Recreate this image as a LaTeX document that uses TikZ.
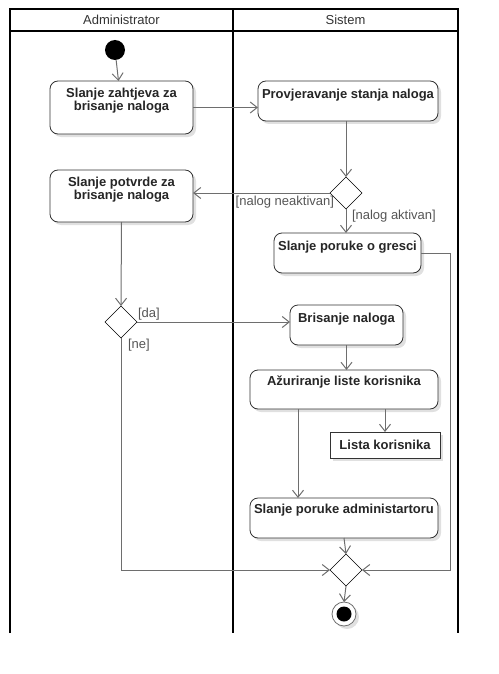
\documentclass[tikz,border=0pt]{standalone}
\usepackage{fontspec}
\setmainfont{Liberation Sans}
\usepackage{tikz}
\usetikzlibrary{arrows.meta,shapes.geometric,shadows}
\definecolor{linegray}{HTML}{6E6E6E}
\definecolor{boxgray}{HTML}{333333}
\definecolor{textgray}{HTML}{555555}

\begin{document}
\begin{tikzpicture}[x=1pt,y=-1pt,every node/.style={outer sep=0pt}]
\tikzstyle{lane}=[line width=1.6pt,black]
\tikzstyle{head}=[font=\fontsize{13}{15}\selectfont,text=boxgray]
\tikzstyle{action}=[draw=boxgray,line width=0.8pt,rounded corners=8pt,fill=white,
  drop shadow={shadow xshift=3pt,shadow yshift=-3pt,fill=black!12,opacity=1}]
\tikzstyle{acttext}=[font=\bfseries\fontsize{13}{13.5}\selectfont,align=center,text=black!85,inner sep=0pt,anchor=north]
\tikzstyle{decision}=[draw=black,diamond,aspect=1,fill=white,inner sep=0pt,minimum width=32pt,minimum height=32pt,line width=0.6pt]
\tikzstyle{flow}=[draw=linegray,line width=1pt,-{Straight Barb[length=7pt,width=11pt]}]
\tikzstyle{guard}=[font=\fontsize{13}{15}\selectfont,text=textgray,inner sep=1pt]
\useasboundingbox (0,0) rectangle (498,674);

% swimlanes
\draw [lane] (10,633) -- (10,9) -- (458,9) -- (458,633);
\draw [lane] (233,9) -- (233,633);
\draw [lane] (10,31) -- (458,31);
\node (adm_head) at (121.5,20) [head] {Administrator};
\node (sis_head) at (345.5,20) [head] {Sistem};

% start
\node (start_node) at (115,50) [circle,fill=black,minimum size=20pt,inner sep=0pt] {};

% actions
\node (zahtjev_node) at (121.5,107.5) [action,minimum width=143pt,minimum height=53pt] {};
\node (zahtjev_txt) at (zahtjev_node.north) [acttext,yshift=-7pt] {Slanje zahtjeva za\\brisanje naloga};
\node (provjera_node) at (348,101) [action,minimum width=180pt,minimum height=40pt] {};
\node (provjera_txt) at (provjera_node.north) [acttext,yshift=-8pt] {Provjeravanje stanja naloga};
\node (potvrda_node) at (121.5,196) [action,minimum width=143pt,minimum height=52pt] {};
\node (potvrda_txt) at (potvrda_node.north) [acttext,yshift=-7pt] {Slanje potvrde za\\brisanje naloga};
\node (greska_node) at (347.5,253) [action,minimum width=147pt,minimum height=40pt] {};
\node (greska_txt) at (greska_node.north) [acttext,yshift=-8pt] {Slanje poruke o gresci};
\node (brisanje_node) at (346.5,325) [action,minimum width=113pt,minimum height=40pt] {};
\node (brisanje_txt) at (brisanje_node.north) [acttext,yshift=-8pt] {Brisanje naloga};
\node (azuriranje_node) at (344,389.5) [action,minimum width=188pt,minimum height=39pt] {};
\node (azuriranje_txt) at (azuriranje_node.north) [acttext,yshift=-6pt] {Ažuriranje liste korisnika};
\node (lista_node) at (385,445) [action,rounded corners=0pt,minimum width=110pt,minimum height=26pt,
  font=\bfseries\fontsize{13}{15}\selectfont,text=black!85] {Lista korisnika};
\node (poruka_node) at (344,518) [action,minimum width=188pt,minimum height=40pt] {};
\node (poruka_txt) at (poruka_node.north) [acttext,yshift=-6pt] {Slanje poruke administartoru};

% decisions
\node (odluka1_node) at (346,193) [decision] {};
\node (odluka2_node) at (121,322) [decision] {};
\node (spoj_node) at (346,570) [decision] {};

% end
\node (end_node) at (344,614) [circle,draw=linegray,line width=0.8pt,fill=white,minimum size=24pt,inner sep=0pt,
  drop shadow={shadow xshift=3pt,shadow yshift=-3pt,fill=black!12,opacity=1}] {};
\node (end_dot) at (end_node) [circle,fill=black,minimum size=15pt,inner sep=0pt] {};

% flows
\draw [flow] (start_node) -- (zahtjev_node);
\draw [flow] (zahtjev_node.east) -- (zahtjev_node.east -| provjera_node.west);
\draw [flow] (odluka1_node |- provjera_node.south) -- (odluka1_node.north);
\draw [flow] (odluka1_node.west) -- (odluka1_node.west -| potvrda_node.east);
\node (neaktivan_lbl) at (odluka1_node.west) [guard,anchor=north east,xshift=5pt,yshift=-2pt] {[nalog neaktivan]};
\draw [flow] (odluka1_node.south) -- (odluka1_node.south |- greska_node.north);
\node (aktivan_lbl) at (odluka1_node.south) [guard,anchor=north west,xshift=5pt,yshift=0pt] {[nalog aktivan]};
\draw [flow] (greska_node.east) -- ++(29,0) |- (spoj_node.east);
\draw [flow] (potvrda_node.south) -- (odluka2_node.north);
\draw [flow] (odluka2_node.east) -- (odluka2_node.east -| brisanje_node.west);
\node (da_lbl) at (odluka2_node.east) [guard,anchor=south west,yshift=1pt] {[da]};
\draw [flow] (odluka2_node.south) |- (spoj_node.west);
\node (ne_lbl) at (odluka2_node.south) [guard,anchor=north west,xshift=6pt,yshift=0pt] {[ne]};
\draw [flow] (brisanje_node.south) -- (brisanje_node.south |- azuriranje_node.north);
\draw [flow] (lista_node |- azuriranje_node.south) -- (lista_node.north);
\draw [flow] ([xshift=-46pt]azuriranje_node.south) -- ([xshift=-46pt]poruka_node.north);
\draw [flow] (poruka_node.south) -- (spoj_node.north);
\draw [flow] (spoj_node.south) -- (end_node.north);

\end{tikzpicture}
\end{document}
